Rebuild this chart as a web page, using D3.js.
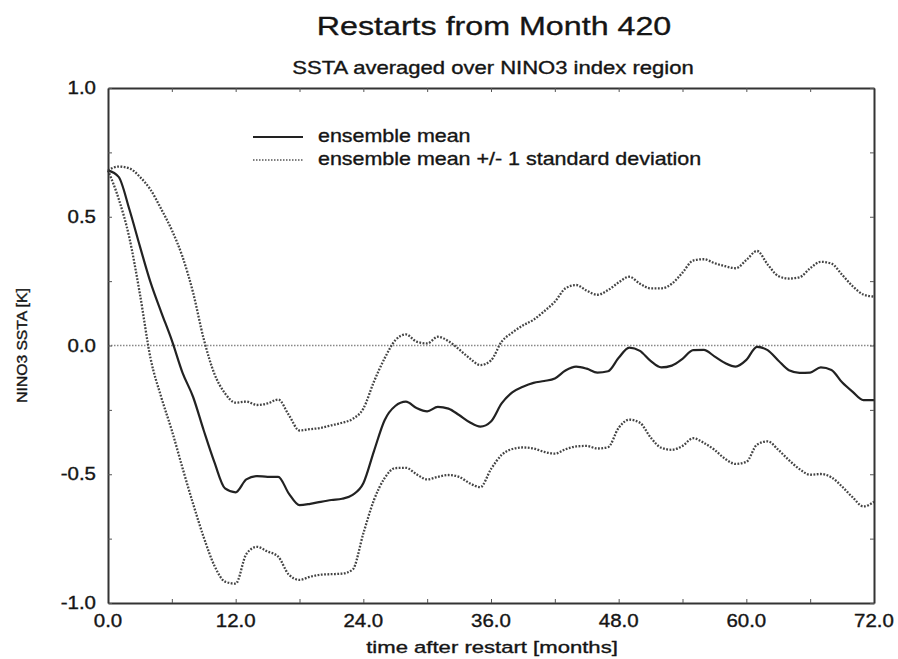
<!DOCTYPE html>
<html>
<head>
<meta charset="utf-8">
<script src="https://cdn.jsdelivr.net/npm/d3@7"></script>
<style>
  html, body { margin: 0; padding: 0; background: #fff; }
  svg { display: block; }
  text { font-family: "Liberation Sans", Arial, Helvetica, sans-serif; fill: #151515; stroke: #151515; stroke-width: 0.35px; }
</style>
</head>
<body>
<svg id="chart" width="898" height="659"></svg>
<script>
// NINO3 SSTA after restart (monthly, months 0..72)
const months = d3.range(0, 73);

const ensembleMean = [
  0.68, 0.655, 0.53, 0.385, 0.245, 0.13, 0.02, -0.105, -0.20, -0.33,
  -0.453, -0.555, -0.57, -0.52, -0.507, -0.51, -0.51, -0.575, -0.62, -0.615,
  -0.607, -0.60, -0.595, -0.58, -0.535, -0.41, -0.29, -0.235, -0.218, -0.243,
  -0.256, -0.238, -0.245, -0.27, -0.298, -0.315, -0.295, -0.225, -0.182, -0.16,
  -0.145, -0.138, -0.128, -0.097, -0.082, -0.09, -0.105, -0.10, -0.048, -0.008,
  -0.021, -0.06, -0.085, -0.078, -0.052, -0.018, -0.017, -0.042, -0.068, -0.082,
  -0.056, -0.005, -0.018, -0.058, -0.096, -0.106, -0.105, -0.085, -0.095, -0.143,
  -0.18, -0.212, -0.212
];

const meanPlusStd = [
  0.68, 0.695, 0.688, 0.655, 0.605, 0.53, 0.448, 0.345, 0.205, 0.025,
  -0.11, -0.186, -0.222, -0.218, -0.231, -0.225, -0.21, -0.27, -0.33, -0.325,
  -0.32, -0.31, -0.30, -0.285, -0.245, -0.14, -0.05, 0.02, 0.043, 0.015,
  0.008, 0.034, 0.017, -0.015, -0.05, -0.076, -0.058, 0.015, 0.05, 0.078,
  0.10, 0.133, 0.17, 0.222, 0.235, 0.213, 0.197, 0.215, 0.245, 0.267,
  0.24, 0.222, 0.222, 0.24, 0.283, 0.33, 0.335, 0.32, 0.308, 0.30,
  0.332, 0.367, 0.315, 0.27, 0.26, 0.265, 0.30, 0.325, 0.318, 0.275,
  0.23, 0.198, 0.19
];

const meanMinusStd = [
  0.68, 0.57, 0.42, 0.20, -0.05, -0.20, -0.33, -0.475, -0.615, -0.745,
  -0.855, -0.917, -0.925, -0.81, -0.782, -0.80, -0.82, -0.89, -0.91, -0.898,
  -0.89, -0.888, -0.886, -0.87, -0.73, -0.60, -0.515, -0.476, -0.475, -0.50,
  -0.52, -0.51, -0.503, -0.51, -0.535, -0.55, -0.48, -0.425, -0.402, -0.396,
  -0.40, -0.413, -0.42, -0.403, -0.392, -0.39, -0.40, -0.395, -0.32, -0.288,
  -0.30, -0.357, -0.397, -0.405, -0.39, -0.36, -0.378, -0.405, -0.44, -0.46,
  -0.452, -0.385, -0.372, -0.405, -0.445, -0.48, -0.502, -0.499, -0.512, -0.548,
  -0.59, -0.625, -0.607
];

const xTickLabels = ["0.0", "12.0", "24.0", "36.0", "48.0", "60.0", "72.0"];
const yTickLabels = ["-1.0", "-0.5", "0.0", "0.5", "1.0"];
const legendLabels = ["ensemble mean", "ensemble mean +/- 1 standard deviation"];

const svg = d3.select("#chart");
const plot = { left: 108, right: 874, top: 88, bottom: 603 };

const x = d3.scaleLinear().domain([0, 72]).range([plot.left, plot.right]);
const y = d3.scaleLinear().domain([-1, 1]).range([plot.bottom, plot.top]);

// Text helper: the lettering is set slightly wide, so each label gets a horizontal stretch
function label(parent, px, py, str, size, anchor, sx) {
  return parent.append("text")
    .attr("transform", `translate(${px},${py}) scale(${sx},1)`)
    .attr("text-anchor", anchor)
    .style("font-size", size + "px")
    .text(str);
}

// Titles
label(svg, 494, 35, "Restarts from Month 420", 26, "middle", 1.24);
label(svg, 493, 74, "SSTA averaged over NINO3 index region", 17.5, "middle", 1.26);

// Zero reference line
svg.append("line")
  .attr("x1", x(0)).attr("x2", x(72))
  .attr("y1", y(0)).attr("y2", y(0))
  .attr("stroke", "#888")
  .attr("stroke-width", 1.5)
  .attr("stroke-dasharray", "1.5,1.5");

// Curves
const line = d3.line()
  .x((d, i) => x(months[i]))
  .y(d => y(d))
  .curve(d3.curveMonotoneX);

[meanPlusStd, meanMinusStd].forEach(series => {
  svg.append("path")
    .datum(series)
    .attr("d", line)
    .attr("fill", "none")
    .attr("stroke", "#444")
    .attr("stroke-width", 2.3)
    .attr("stroke-dasharray", "1.8,1.5");
});

svg.append("path")
  .datum(ensembleMean)
  .attr("d", line)
  .attr("fill", "none")
  .attr("stroke", "#222")
  .attr("stroke-width", 2.2);

// Frame with inward ticks on every side
const xTicks = d3.range(0, 73, 6);
const yTicks = d3.range(-1, 1.001, 0.25);
const tickLen = 4;

const axisBottom = d3.axisBottom(x).tickValues(xTicks).tickSizeInner(-tickLen).tickSizeOuter(0).tickFormat("");
const axisTop = d3.axisTop(x).tickValues(xTicks).tickSizeInner(-tickLen).tickSizeOuter(0).tickFormat("");
const axisLeft = d3.axisLeft(y).tickValues(yTicks).tickSizeInner(-tickLen).tickSizeOuter(0).tickFormat("");
const axisRight = d3.axisRight(y).tickValues(yTicks).tickSizeInner(-tickLen).tickSizeOuter(0).tickFormat("");

const frameG = [
  svg.append("g").attr("transform", `translate(0,${plot.bottom})`).call(axisBottom),
  svg.append("g").attr("transform", `translate(0,${plot.top})`).call(axisTop),
  svg.append("g").attr("transform", `translate(${plot.left},0)`).call(axisLeft),
  svg.append("g").attr("transform", `translate(${plot.right},0)`).call(axisRight)
];
frameG.forEach(g => {
  g.select(".domain").attr("stroke", "#333").attr("stroke-width", 2);
  g.selectAll(".tick line").attr("stroke", "#555").attr("stroke-width", 1);
});

// Tick labels
const xLab = svg.append("g");
xTickLabels.forEach(d => label(xLab, x(+d), plot.bottom + 24, d, 17.5, "middle", 1.17));

const yLab = svg.append("g");
yTickLabels.forEach(d => label(yLab, 96, y(+d) + 6, d, 17.5, "end", 1.17));

// Axis titles
label(svg, 492, 653, "time after restart [months]", 17, "middle", 1.3);
svg.append("text")
  .attr("transform", `translate(27,${y(0)}) rotate(-90) scale(1.08,1)`)
  .attr("text-anchor", "middle")
  .style("font-size", "14.5px")
  .text("NINO3 SSTA [K]");

// Legend
const legend = svg.append("g").attr("transform", "translate(253,137)");
legendLabels.forEach((str, i) => {
  const row = legend.append("g").attr("transform", `translate(0,${i * 23})`);
  row.append("line")
    .attr("x1", 0).attr("x2", 50)
    .attr("y1", 0).attr("y2", 0)
    .attr("stroke", i === 0 ? "#222" : "#555")
    .attr("stroke-width", i === 0 ? 1.8 : 1.5)
    .attr("stroke-dasharray", i === 0 ? null : "1.5,1.5");
  label(row, 65, 5, str, 18.5, "start", 1.16);
});
</script>
</body>
</html>
